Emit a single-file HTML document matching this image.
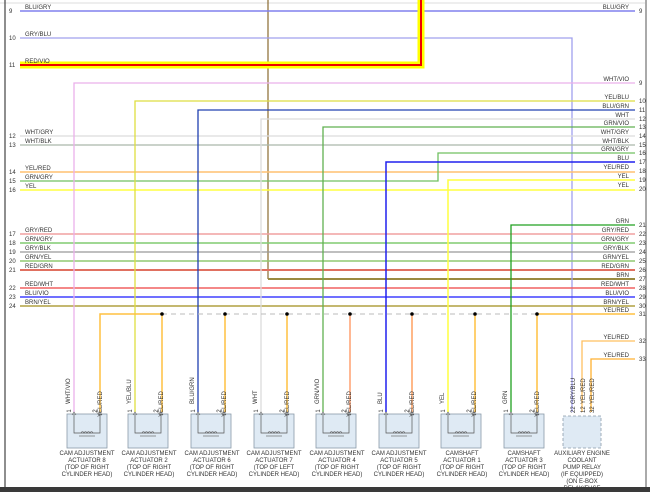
<!DOCTYPE html>
<html><head><meta charset="utf-8"><style>
html,body{margin:0;padding:0;background:#fff}
svg{display:block}
text{font-family:"Liberation Sans",sans-serif;font-size:6px;fill:#333}
</style></head><body>
<svg width="650" height="492" viewBox="0 0 650 492" xmlns="http://www.w3.org/2000/svg">
<rect width="650" height="492" fill="#fff"/>
<line x1="0" y1="3" x2="645" y2="3" stroke="#ddd" stroke-width="1"/>
<line x1="5" y1="0" x2="5" y2="488" stroke="#444" stroke-width="1.2"/>
<line x1="646" y1="0" x2="646" y2="488" stroke="#555" stroke-width="1"/>
<rect x="0" y="487" width="650" height="5" fill="#3a3a3a"/>

<!-- verticals from top -->
<line x1="268" y1="0" x2="268" y2="279" stroke="#8a6a30" stroke-width="1.2"/>
<line x1="268" y1="279" x2="635" y2="279" stroke="#9a8a40" stroke-width="2"/>

<!-- left-origin straight lines -->
<g fill="none">
<line x1="20" y1="11" x2="635" y2="11" stroke="#8080ee" stroke-width="1.5"/>
<polyline points="20,38 572,38 572,412" stroke="#a0a0ee" stroke-width="1.3"/>
<polyline points="20,65 421,65 421,0" stroke="#ffff00" stroke-width="7"/>
<polyline points="20,65 421,65 421,0" stroke="#ee0000" stroke-width="2"/>
<line x1="20" y1="136" x2="635" y2="136" stroke="#dcdcdc" stroke-width="1.2"/>
<line x1="20" y1="145" x2="635" y2="145" stroke="#aab8aa" stroke-width="1.2"/>
<line x1="20" y1="172" x2="635" y2="172" stroke="#ffc070" stroke-width="1.5"/>
<polyline points="20,181 438,181 438,153 635,153" stroke="#70c060" stroke-width="1.3"/>
<line x1="20" y1="190" x2="635" y2="190" stroke="#ffff40" stroke-width="1.5"/>
<line x1="20" y1="234" x2="635" y2="234" stroke="#f0a0a0" stroke-width="1.5"/>
<line x1="20" y1="243" x2="635" y2="243" stroke="#80cc70" stroke-width="1.5"/>
<line x1="20" y1="252" x2="635" y2="252" stroke="#999" stroke-width="1.3"/>
<line x1="20" y1="261" x2="635" y2="261" stroke="#90c870" stroke-width="1.5"/>
<line x1="20" y1="270" x2="635" y2="270" stroke="#e07060" stroke-width="2"/>
<line x1="20" y1="288" x2="635" y2="288" stroke="#f06060" stroke-width="1.5"/>
<line x1="20" y1="297" x2="635" y2="297" stroke="#4040ff" stroke-width="1.5"/>
<line x1="20" y1="306" x2="635" y2="306" stroke="#b0a040" stroke-width="1.5"/>

<!-- right-origin wires down to connectors -->
<polyline points="635,83 74,83 74,412" stroke="#eab0ea" stroke-width="1.3"/>
<polyline points="635,101 135,101 135,412" stroke="#dede40" stroke-width="1.3"/>
<polyline points="635,110 198,110 198,412" stroke="#2040b0" stroke-width="1.3"/>
<polyline points="635,119 261,119 261,412" stroke="#dcdcdc" stroke-width="1.3"/>
<polyline points="635,127 323,127 323,412" stroke="#60b050" stroke-width="1.3"/>
<polyline points="635,162 386,162 386,412" stroke="#2020ee" stroke-width="1.5"/>
<polyline points="635,180 448,180 448,412" stroke="#ffff40" stroke-width="1.5"/>
<polyline points="635,225 511,225 511,412" stroke="#20a020" stroke-width="1.3"/>

<!-- YEL/RED 31 -->
<line x1="162" y1="314" x2="537" y2="314" stroke="#bbb" stroke-width="1" stroke-dasharray="5,4"/>
<polyline points="100,412 100,314 162,314 162,412" stroke="#ffc040" stroke-width="1.5"/>
<line x1="225" y1="314" x2="225" y2="412" stroke="#ffc040" stroke-width="1.5"/>
<line x1="287" y1="314" x2="287" y2="412" stroke="#ffc040" stroke-width="1.5"/>
<line x1="350" y1="314" x2="350" y2="412" stroke="#ffa070" stroke-width="1.5"/>
<line x1="412" y1="314" x2="412" y2="412" stroke="#ffa060" stroke-width="1.5"/>
<line x1="475" y1="314" x2="475" y2="412" stroke="#ffc040" stroke-width="1.5"/>
<polyline points="537,412 537,314 635,314" stroke="#ffc040" stroke-width="1.5"/>
<polyline points="635,341 582,341 582,412" stroke="#ffc060" stroke-width="1.3"/>
<polyline points="635,359 591,359 591,412" stroke="#ffb030" stroke-width="1.3"/>
</g>
<g fill="#000">
<circle cx="162" cy="314" r="1.8"/><circle cx="225" cy="314" r="1.8"/><circle cx="287" cy="314" r="1.8"/>
<circle cx="350" cy="314" r="1.8"/><circle cx="412" cy="314" r="1.8"/><circle cx="475" cy="314" r="1.8"/><circle cx="537" cy="314" r="1.8"/>
</g>

<!-- left labels -->
<g>
<text x="9" y="13">9</text><text x="25" y="9">BLU/GRY</text>
<text x="9" y="40">10</text><text x="25" y="36">GRY/BLU</text>
<text x="9" y="67">11</text><text x="25" y="63">RED/VIO</text>
<text x="9" y="138">12</text><text x="25" y="134">WHT/GRY</text>
<text x="9" y="147">13</text><text x="25" y="143">WHT/BLK</text>
<text x="9" y="174">14</text><text x="25" y="170">YEL/RED</text>
<text x="9" y="183">15</text><text x="25" y="179">GRN/GRY</text>
<text x="9" y="192">16</text><text x="25" y="188">YEL</text>
<text x="9" y="236">17</text><text x="25" y="232">GRY/RED</text>
<text x="9" y="245">18</text><text x="25" y="241">GRN/GRY</text>
<text x="9" y="254">19</text><text x="25" y="250">GRY/BLK</text>
<text x="9" y="263">20</text><text x="25" y="259">GRN/YEL</text>
<text x="9" y="272">21</text><text x="25" y="268">RED/GRN</text>
<text x="9" y="290">22</text><text x="25" y="286">RED/WHT</text>
<text x="9" y="299">23</text><text x="25" y="295">BLU/VIO</text>
<text x="9" y="308">24</text><text x="25" y="304">BRN/YEL</text>
</g>
<!-- right labels -->
<g text-anchor="end">
<text x="629" y="9">BLU/GRY</text>
<text x="629" y="81">WHT/VIO</text>
<text x="629" y="99">YEL/BLU</text>
<text x="629" y="108">BLU/GRN</text>
<text x="629" y="117">WHT</text>
<text x="629" y="125">GRN/VIO</text>
<text x="629" y="134">WHT/GRY</text>
<text x="629" y="143">WHT/BLK</text>
<text x="629" y="151">GRN/GRY</text>
<text x="629" y="160">BLU</text>
<text x="629" y="169">YEL/RED</text>
<text x="629" y="178">YEL</text>
<text x="629" y="187">YEL</text>
<text x="629" y="223">GRN</text>
<text x="629" y="232">GRY/RED</text>
<text x="629" y="241">GRN/GRY</text>
<text x="629" y="250">GRY/BLK</text>
<text x="629" y="259">GRN/YEL</text>
<text x="629" y="268">RED/GRN</text>
<text x="629" y="277">BRN</text>
<text x="629" y="286">RED/WHT</text>
<text x="629" y="295">BLU/VIO</text>
<text x="629" y="304">BRN/YEL</text>
<text x="629" y="312">YEL/RED</text>
<text x="629" y="339">YEL/RED</text>
<text x="629" y="357">YEL/RED</text>
</g>
<g>
<text x="639" y="13">9</text><text x="639" y="85">9</text><text x="639" y="103">10</text><text x="639" y="112">11</text>
<text x="639" y="121">12</text><text x="639" y="129">13</text><text x="639" y="138">14</text><text x="639" y="147">15</text>
<text x="639" y="155">16</text><text x="639" y="164">17</text><text x="639" y="173">18</text><text x="639" y="182">19</text>
<text x="639" y="191">20</text><text x="639" y="227">21</text><text x="639" y="236">22</text><text x="639" y="245">23</text>
<text x="639" y="254">24</text><text x="639" y="263">25</text><text x="639" y="272">26</text><text x="639" y="281">27</text>
<text x="639" y="290">28</text><text x="639" y="299">29</text><text x="639" y="308">30</text><text x="639" y="316">31</text>
<text x="639" y="343">32</text><text x="639" y="361">33</text>
</g>

<!-- connectors -->
<defs>
<g id="conn">
<rect x="-7" y="414" width="40" height="34" fill="#dfeaf4" stroke="#8a9aa8" stroke-width="0.8"/>
<polyline points="0,414 0,433 26,433 26,414" fill="none" stroke="#555" stroke-width="0.7"/>
<path d="M7,433 q1.5,-3 3,0 q1.5,-3 3,0 q1.5,-3 3,0 q1.5,-3 3,0" fill="none" stroke="#555" stroke-width="0.6"/>
<line x1="5" y1="436" x2="21" y2="436" stroke="#555" stroke-width="0.6"/>
<path d="M-2,415 l2,-3 l2,3 M24,415 l2,-3 l2,3" fill="none" stroke="#555" stroke-width="0.6"/>
<text x="-3" y="411" transform="rotate(-90 -3 411)">1</text>
<text x="23" y="411" transform="rotate(-90 23 411)">2</text>
<text x="28" y="404" transform="rotate(-90 28 404)">YEL/RED</text>
</g>
</defs>
<g text-anchor="middle">
<use href="#conn" x="74"/><text x="70" y="404" transform="rotate(-90 70 404)" text-anchor="start">WHT/VIO</text>
<use href="#conn" x="135"/><text x="131" y="404" transform="rotate(-90 131 404)" text-anchor="start">YEL/BLU</text>
<use href="#conn" x="198"/><text x="194" y="404" transform="rotate(-90 194 404)" text-anchor="start">BLU/GRN</text>
<use href="#conn" x="261"/><text x="257" y="404" transform="rotate(-90 257 404)" text-anchor="start">WHT</text>
<use href="#conn" x="323"/><text x="319" y="404" transform="rotate(-90 319 404)" text-anchor="start">GRN/VIO</text>
<use href="#conn" x="386"/><text x="382" y="404" transform="rotate(-90 382 404)" text-anchor="start">BLU</text>
<use href="#conn" x="448"/><text x="444" y="404" transform="rotate(-90 444 404)" text-anchor="start">YEL</text>
<use href="#conn" x="511"/><text x="507" y="404" transform="rotate(-90 507 404)" text-anchor="start">GRN</text>

<text x="87" y="455">CAM ADJUSTMENT</text><text x="87" y="462">ACTUATOR 8</text><text x="87" y="469">(TOP OF RIGHT</text><text x="87" y="476">CYLINDER HEAD)</text>
<text x="149" y="455">CAM ADJUSTMENT</text><text x="149" y="462">ACTUATOR 2</text><text x="149" y="469">(TOP OF RIGHT</text><text x="149" y="476">CYLINDER HEAD)</text>
<text x="212" y="455">CAM ADJUSTMENT</text><text x="212" y="462">ACTUATOR 6</text><text x="212" y="469">(TOP OF RIGHT</text><text x="212" y="476">CYLINDER HEAD)</text>
<text x="274" y="455">CAM ADJUSTMENT</text><text x="274" y="462">ACTUATOR 7</text><text x="274" y="469">(TOP OF LEFT</text><text x="274" y="476">CYLINDER HEAD)</text>
<text x="337" y="455">CAM ADJUSTMENT</text><text x="337" y="462">ACTUATOR 4</text><text x="337" y="469">(TOP OF RIGHT</text><text x="337" y="476">CYLINDER HEAD)</text>
<text x="399" y="455">CAM ADJUSTMENT</text><text x="399" y="462">ACTUATOR 5</text><text x="399" y="469">(TOP OF RIGHT</text><text x="399" y="476">CYLINDER HEAD)</text>
<text x="462" y="455">CAMSHAFT</text><text x="462" y="462">ACTUATOR 1</text><text x="462" y="469">(TOP OF RIGHT</text><text x="462" y="476">CYLINDER HEAD)</text>
<text x="524" y="455">CAMSHAFT</text><text x="524" y="462">ACTUATOR 3</text><text x="524" y="469">(TOP OF RIGHT</text><text x="524" y="476">CYLINDER HEAD)</text>

<rect x="563" y="416" width="38" height="32" fill="#dfeaf4" stroke="#8a9aa8" stroke-width="0.8" stroke-dasharray="3,2"/>
<text x="582" y="455">AUXILIARY ENGINE</text><text x="582" y="462">COOLANT</text><text x="582" y="469">PUMP RELAY</text><text x="582" y="476">(IF EQUIPPED)</text><text x="582" y="483">(ON E-BOX</text><text x="582" y="490">RELAY/FUSE</text>
</g>
<g>
<text x="575" y="413" transform="rotate(-90 575 413)">22</text>
<text x="575" y="404" transform="rotate(-90 575 404)">GRY/BLU</text>
<text x="585" y="413" transform="rotate(-90 585 413)">12</text>
<text x="585" y="404" transform="rotate(-90 585 404)">YEL/RED</text>
<text x="594" y="413" transform="rotate(-90 594 413)">32</text>
<text x="594" y="404" transform="rotate(-90 594 404)">YEL/RED</text>
</g>
<rect x="0" y="487" width="650" height="5" fill="#3a3a3a"/>
</svg>
</body></html>
